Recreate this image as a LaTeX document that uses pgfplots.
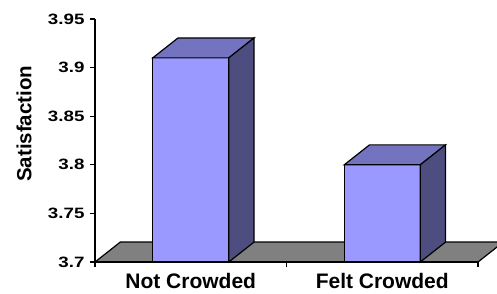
\documentclass[border=0pt]{standalone}
\usepackage{graphicx}
\usepackage{pgfplots}
\pgfplotsset{compat=1.18}
\usepackage{fontspec}
\setmainfont{Liberation Sans}
\definecolor{barfront}{RGB}{153,153,255}
\definecolor{bartop}{RGB}{115,115,191}
\definecolor{barside}{RGB}{77,77,128}
\definecolor{floorgray}{RGB}{128,128,128}
\begin{document}
\begin{tikzpicture}
\path[use as bounding box] (-95pt,-31pt) rectangle (402pt,262pt);
\begin{axis}[
  at={(0,0)}, anchor=south west,
  scale only axis, width=383pt, height=243pt,
  xmin=0, xmax=2, ymin=3.7, ymax=3.95,
  clip=false, axis on top,
  axis x line=bottom, axis y line=left,
  axis line style={-, line width=1.2pt},
  every tick/.style={black, line width=1.2pt},
  tick align=outside,
  major tick length=5pt,
  xtick={0.5,1.5}, xticklabels={Not Crowded, Felt Crowded},
  x tick style={draw=none},
  extra x ticks={0,1,2}, extra x tick labels={},
  extra x tick style={x tick style={draw=black, line width=1.2pt}, major tick length=5pt},
  ytick={3.7,3.75,3.8,3.85,3.9,3.95},
  yticklabel={\scalebox{1.25}[1]{\pgfmathprintnumber[fixed,precision=2]{\tick}}},
  /pgf/number format/assume math mode=true,
  yticklabel style={font=\fontsize{15}{17}\selectfont\bfseries, xshift=-2pt},
  xticklabel style={font=\fontsize{21}{23}\selectfont\bfseries, anchor=base, yshift=-21.5pt},
  ylabel={Satisfaction},
  ylabel style={font=\fontsize{20.5}{23}\selectfont\bfseries, at={(axis description cs:-0.185,0.569)}, anchor=center},
]
% floor
\addplot[fill=floorgray, draw=black, line width=1.2pt] coordinates {(0,3.7) (0.132,3.7205) (2.132,3.7205) (2,3.7)} -- cycle;
% Not Crowded: 3.91
\addplot[fill=barfront, draw=black, line width=1.2pt] coordinates {(0.3015,3.7) (0.3015,3.91) (0.6985,3.91) (0.6985,3.7)} -- cycle;
\addplot[fill=bartop, draw=black, line width=1.2pt] coordinates {(0.3015,3.91) (0.4335,3.9305) (0.8305,3.9305) (0.6985,3.91)} -- cycle;
\addplot[fill=barside, draw=black, line width=1.2pt] coordinates {(0.6985,3.7) (0.8305,3.7205) (0.8305,3.9305) (0.6985,3.91)} -- cycle;
% Felt Crowded: 3.80
\addplot[fill=barfront, draw=black, line width=1.2pt] coordinates {(1.3015,3.7) (1.3015,3.80) (1.6985,3.80) (1.6985,3.7)} -- cycle;
\addplot[fill=bartop, draw=black, line width=1.2pt] coordinates {(1.3015,3.80) (1.4335,3.8205) (1.8305,3.8205) (1.6985,3.80)} -- cycle;
\addplot[fill=barside, draw=black, line width=1.2pt] coordinates {(1.6985,3.7) (1.8305,3.7205) (1.8305,3.8205) (1.6985,3.80)} -- cycle;
\end{axis}
\end{tikzpicture}
\end{document}
